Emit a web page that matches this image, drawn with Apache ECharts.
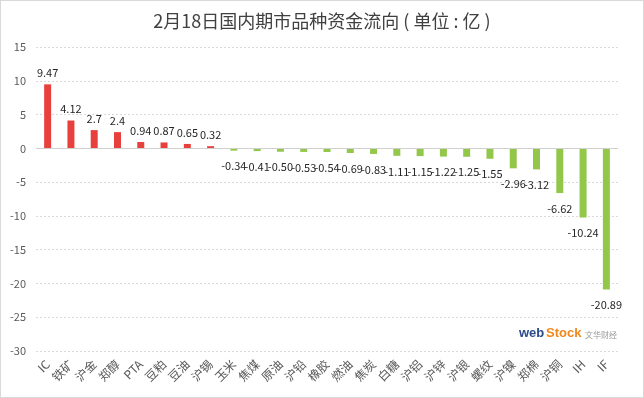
<!DOCTYPE html>
<html>
<head>
<meta charset="utf-8">
<script src="https://cdn.jsdelivr.net/npm/echarts@6/dist/echarts.min.js"></script>
<style>
  html, body { margin: 0; padding: 0; background: #fff; }
  #chart { width: 642px; height: 396px; border: 1px solid #d9d9d9; }
</style>
</head>
<body>
<div id="chart"></div>
<script>
// 品种与资金流向（亿）
const categories = ['IC', '铁矿', '沪金', '郑醇', 'PTA', '豆粕', '豆油', '沪锡', '玉米', '焦煤', '原油', '沪铅', '橡胶',
  '燃油', '焦炭', '白糖', '沪铝', '沪锌', '沪银', '螺纹', '沪镍', '郑棉', '沪铜', 'IH', 'IF']
const values = [9.47, 4.12, 2.7, 2.4, 0.94, 0.87, 0.65, 0.32, -0.34, -0.41, -0.50, -0.53, -0.54,
  -0.69, -0.83, -1.11, -1.15, -1.22, -1.25, -1.55, -2.96, -3.12, -6.62, -10.24, -20.89]
const valueText = ['9.47', '4.12', '2.7', '2.4', '0.94', '0.87', '0.65', '0.32', '-0.34', '-0.41', '-0.50', '-0.53', '-0.54',
  '-0.69', '-0.83', '-1.11', '-1.15', '-1.22', '-1.25', '-1.55', '-2.96', '-3.12', '-6.62', '-10.24', '-20.89']
const yTicks = { min: -30, max: 15, interval: 5 }

const font = '"Noto Sans CJK SC", "Microsoft YaHei", sans-serif'
const chart = echarts.init(document.getElementById('chart'))

const seriesData = values.map((v, i) => ({
  value: v,
  itemStyle: { color: v >= 0 ? '#e8403c' : '#92c74a' },
  label: {
    position: v >= 0 ? 'top' : 'bottom',
    distance: v >= 0 ? 6 : 10,
    formatter: () => valueText[i]
  }
}))

chart.setOption({
  animation: false,
  textStyle: { fontFamily: font },
  title: {
    text: '2月18日国内期市品种资金流向 ( 单位 : 亿 )',
    left: 'center',
    top: 6,
    textStyle: { fontSize: 18, fontWeight: 'normal', color: '#404040', fontFamily: font }
  },
  grid: { left: 35, right: 25, top: 46, bottom: 46 },
  xAxis: {
    type: 'category',
    data: categories,
    axisLine: { show: false },
    axisTick: { show: false },
    axisLabel: { rotate: 45, color: '#595959', fontSize: 12, margin: 11, interval: 0 }
  },
  yAxis: {
    type: 'value',
    min: yTicks.min,
    max: yTicks.max,
    interval: yTicks.interval,
    axisLine: { show: false },
    axisTick: { show: false },
    axisLabel: { color: '#595959', fontSize: 11, margin: 10 },
    splitLine: { lineStyle: { color: '#d9d9d9', type: [2, 2] } }
  },
  series: [
    {
      type: 'bar',
      barWidth: 7,
      data: seriesData,
      label: { show: true, color: '#262626', fontSize: 11 },
      markLine: {
        silent: true,
        symbol: 'none',
        label: { show: false },
        lineStyle: { color: '#d0d0d0', type: 'solid', width: 1 },
        data: [{ yAxis: 0 }]
      }
    }
  ],
  graphic: [
    {
      type: 'text', left: 518, top: 326,
      style: { text: 'web', fill: '#2b4b8c', font: 'bold 13px Arial, sans-serif' }
    },
    {
      type: 'text', left: 545, top: 326,
      style: { text: 'Stock', fill: '#f0891d', font: 'bold 13px Arial, sans-serif' }
    },
    {
      type: 'text', left: 584, top: 330,
      style: { text: '文华财经', fill: '#999', font: '8px ' + font }
    }
  ]
})
</script>
</body>
</html>
